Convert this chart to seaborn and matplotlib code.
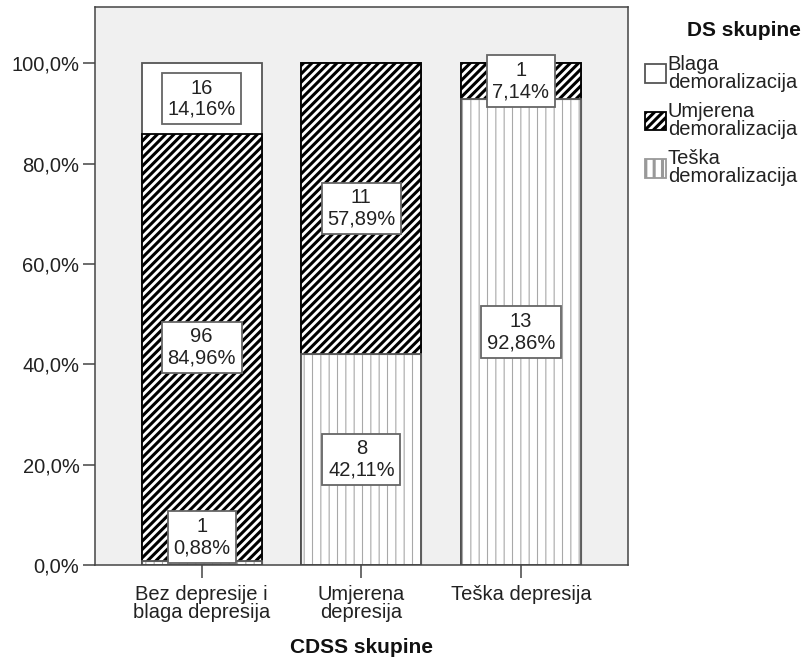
import numpy as np
import seaborn as sns
import matplotlib
matplotlib.use("Agg")
import matplotlib.pyplot as plt
from matplotlib.patches import Patch
from matplotlib.ticker import FuncFormatter

# CDSS groups (x) and DS groups (stack)
categories = ['Bez depresije i\nblaga depresija', 'Umjerena\ndepresija', 'Teška depresija']
ds_groups = ['Blaga\ndemoralizacija', 'Umjerena\ndemoralizacija', 'Teška\ndemoralizacija']

blaga_n = [16, 0, 0]
umjerena_n = [96, 11, 1]
teska_n = [1, 8, 13]

blaga_pct = [14.16, 0.0, 0.0]
umjerena_pct = [84.96, 57.89, 7.14]
teska_pct = [0.88, 42.11, 92.86]

yticks = [0, 20, 40, 60, 80, 100]

sns.set_style("ticks")
plt.rcParams['font.family'] = ['Liberation Sans', 'DejaVu Sans']
plt.rcParams['hatch.linewidth'] = 2.2

edge = '#555555'
fs = 14.5

fig = plt.figure(figsize=(8.03, 6.64), dpi=100)
ax = fig.add_axes([0.118, 0.149, 0.664, 0.8405])
ax.set_facecolor('#f0f0f0')

teska = np.array(teska_pct)
umj_top = teska + np.array(umjerena_pct)
total = umj_top + np.array(blaga_pct)

# stacked by overlapping cumulative bars
sns.barplot(x=categories, y=total, color='white', edgecolor=edge, linewidth=1.3,
            width=0.75, saturation=1, ax=ax)
n0 = len(ax.patches)
sns.barplot(x=categories, y=umj_top, color='white', edgecolor='black', linewidth=1.3,
            width=0.75, saturation=1, hatch='////', ax=ax)
for p in ax.patches[n0:]:
    if hasattr(p, 'set_hatch_linewidth'):
        p.set_hatch_linewidth(2.2)
n1 = len(ax.patches)
sns.barplot(x=categories, y=teska, color='white', edgecolor='#a8a8a8', linewidth=0.9,
            width=0.75, saturation=1, hatch='||', ax=ax)
for p in ax.patches[n1:]:
    if hasattr(p, 'set_hatch_linewidth'):
        p.set_hatch_linewidth(0.8)
sns.barplot(x=categories, y=teska, fill=False, edgecolor=edge, linewidth=1.3,
            width=0.75, saturation=1, ax=ax)

# value boxes
box = dict(boxstyle='square,pad=0.28', fc='white', ec='#666666', lw=1.3)
for i in range(len(categories)):
    segs = [(teska_n[i], teska_pct[i], 0.0),
            (umjerena_n[i], umjerena_pct[i], teska[i]),
            (blaga_n[i], blaga_pct[i], umj_top[i])]
    for n, pct, base in segs:
        if n == 0:
            continue
        y = max(base + pct / 2, 5.6)
        txt = f"{n}\n{pct:.2f}%".replace('.', ',')
        ax.text(i, y, txt, ha='center', va='center', fontsize=fs,
                linespacing=1.15, color='#222222', bbox=box, zorder=5)

ax.set_xlim(-0.67, 2.67)
ax.set_ylim(0, 111.2)
ax.set_yticks(yticks)
ax.yaxis.set_major_formatter(FuncFormatter(lambda v, _: f"{v:.1f}%".replace('.', ',')))
ax.tick_params(axis='both', length=9, width=1.1, color='#444444', labelsize=fs,
               labelcolor='#222222')
ax.tick_params(axis='y', pad=2)
ax.tick_params(axis='x', pad=5)
for t in ax.get_xticklabels():
    t.set_linespacing(0.95)
for s in ax.spines.values():
    s.set_visible(True)
    s.set_color('#444444')
    s.set_linewidth(1.1)

ax.set_xlabel('CDSS skupine', fontsize=15, fontweight='bold', labelpad=12, color='#111111')
ax.set_ylabel('')

# legend (title drawn separately, right aligned)
fig.text(0.997, 0.968, 'DS skupine', ha='right', va='top', fontsize=15,
         fontweight='bold', color='#111111')
handles = [Patch(facecolor='white', edgecolor=edge, linewidth=1.3),
           Patch(facecolor='white', edgecolor='black', hatch='////', linewidth=1.3),
           Patch(facecolor='white', edgecolor='#999999', hatch='||', linewidth=1.3)]
leg = fig.legend(handles, ds_groups, loc='upper right', bbox_to_anchor=(1.0, 0.927),
                 bbox_transform=fig.transFigure, frameon=False, fontsize=fs,
                 handlelength=1.05, handleheight=1.05,
                 handletextpad=0.1, labelspacing=0.5, borderpad=0.1, borderaxespad=0.2)
for t in leg.get_texts():
    t.set_linespacing(0.95)
    t.set_color('#222222')

fig.savefig('out.png', dpi=100)
